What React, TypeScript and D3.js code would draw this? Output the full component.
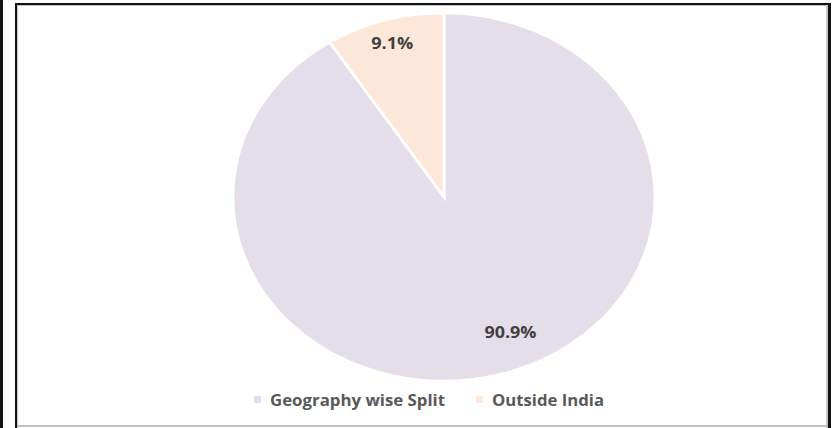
import React from "react";
import * as d3 from "d3";

const categories = ["Geography wise Split", "Outside India"];
const values = [90.9, 9.1];
const labels = ["90.9%", "9.1%"];
const colors = ["#E4DEEB", "#FCE7D9"];

const W = 835;
const H = 428;

export default function App() {
  const cx = 444;
  const cy = 197;
  const r = 184;
  const sx = 1.147;

  const pie = d3.pie<number>().sort(null).value((d) => d);
  const arcs = pie(values);
  const arc = d3.arc<d3.PieArcDatum<number>>().innerRadius(0).outerRadius(r);

  // best-fit style label placement: radius fraction and angular offset from slice middle
  const labelRad = [0.8, 0.87];
  const labelShift = [-0.119, 0];
  const labelWidth = [52, 42];

  const labelPos = arcs.map((a, i) => {
    const ang = (a.startAngle + a.endAngle) / 2 + labelShift[i];
    const [x, y] = d3.pointRadial(ang, r * labelRad[i]);
    return [cx + x * sx, cy + y];
  });

  const legendX = [257, 479];
  const legendW = [175, 112];

  return (
    <div style={{ position: "fixed", left: 0, top: 0 }}>
      <svg width={W} height={H} style={{ display: "block", background: "#fff" }}>
        {/* frame */}
        <rect x={0} y={0} width={3} height={H} fill="#111" />
        <rect x={15} y={3} width={2} height={H - 3} fill="#111" />
        <rect x={17} y={3} width={1} height={H - 3} fill="#c8c8c8" />
        <rect x={15} y={3} width={816} height={2} fill="#111" />
        <rect x={17} y={5} width={811} height={1} fill="#c8c8c8" />
        <rect x={828} y={3} width={3} height={H - 3} fill="#111" />
        <rect x={826} y={5} width={2} height={H - 5} fill="#c8c8c8" />
        <rect x={17} y={425} width={811} height={2} fill="#c0c0c0" />

        <g transform={`translate(${cx},${cy}) scale(${sx},1)`}>
          {arcs.map((a, i) => (
            <path key={i} d={arc(a) || ""} fill={colors[i]} stroke="#fff" strokeWidth={2.5} />
          ))}
        </g>
        {arcs.map((a, i) => (
          <text
            key={i}
            x={labelPos[i][0]}
            y={labelPos[i][1]}
            textAnchor="middle"
            dominantBaseline="central"
            fontFamily="'Open Sans', sans-serif"
            fontWeight={700}
            fontSize={16}
            fill="#404040"
            textLength={labelWidth[i]}
            lengthAdjust="spacingAndGlyphs"
          >
            {labels[i]}
          </text>
        ))}

        {categories.map((c, i) => (
          <g key={c}>
            <rect x={legendX[i] - 3} y={396} width={7} height={7} fill={colors[i]} />
            <text
              x={legendX[i] + 13}
              y={399.5}
              dominantBaseline="central"
              fontFamily="'Open Sans', sans-serif"
              fontWeight={700}
              fontSize={16}
              fill="#595959"
              textLength={legendW[i]}
              lengthAdjust="spacingAndGlyphs"
            >
              {c}
            </text>
          </g>
        ))}
      </svg>
    </div>
  );
}
